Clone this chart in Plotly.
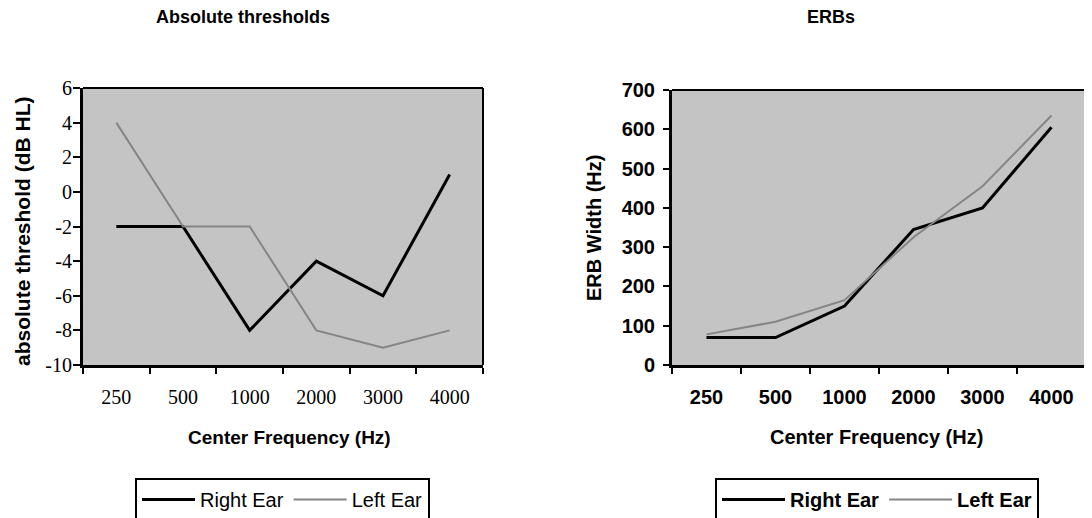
import plotly.graph_objects as go

# ---- data ----
freqs = ["250", "500", "1000", "2000", "3000", "4000"]
thr_right = [-2, -2, -8, -4, -6, 1]
thr_left = [4, -2, -2, -8, -9, -8]
erb_right = [70, 70, 150, 345, 400, 605]
erb_left = [78, 110, 165, 325, 455, 635]
thr_ticks = [-10, -8, -6, -4, -2, 0, 2, 4, 6]
erb_ticks = [0, 100, 200, 300, 400, 500, 600, 700]

# page has an 8px body margin: figure occupies screen (8..1092, 8..518)
OFF = 8
W, H = 1092 - OFF, 518 - OFF
def px(x):
    return (x - OFF) / W
def py(y):
    return 1 - (y - OFF) / H

BLACK = "#000000"
GRAY = "#858585"
SANS = "Liberation Sans, Arial, sans-serif"
SERIF = "Liberation Serif, Times New Roman, serif"

fig = go.Figure()

fig.add_trace(go.Scatter(x=freqs, y=thr_right, mode="lines", name="Right Ear",
                         line=dict(color=BLACK, width=3), xaxis="x", yaxis="y",
                         legend="legend", legendrank=1))
fig.add_trace(go.Scatter(x=freqs, y=thr_left, mode="lines", name="Left Ear",
                         line=dict(color=GRAY, width=2), xaxis="x", yaxis="y",
                         legend="legend", legendrank=2))
fig.add_trace(go.Scatter(x=freqs, y=erb_right, mode="lines", name="Right Ear",
                         line=dict(color=BLACK, width=3), xaxis="x2", yaxis="y2",
                         legend="legend2", legendrank=1))
fig.add_trace(go.Scatter(x=freqs, y=erb_left, mode="lines", name="Left Ear",
                         line=dict(color=GRAY, width=2), xaxis="x2", yaxis="y2",
                         legend="legend2", legendrank=2))

axis_common = dict(showgrid=False, zeroline=False, linecolor=BLACK, linewidth=3,
                   ticks="outside", tickcolor=BLACK, tickwidth=2,
                   showline=True, fixedrange=True, automargin=False)

fig.update_layout(
    width=W, height=H,
    margin=dict(l=0, r=0, t=0, b=0, autoexpand=False),
    paper_bgcolor="white",
    plot_bgcolor="#c4c4c4",
    showlegend=True,
    xaxis=dict(domain=[px(83), px(483)], type="category", range=[-0.5, 5.5],
               tickson="boundaries", anchor="y", ticklabelstandoff=12, ticklen=6,
               tickfont=dict(family=SERIF, size=20, color=BLACK), **axis_common),
    yaxis=dict(domain=[py(365), py(88)], range=[-10, 6], tickvals=thr_ticks,
               ticktext=[str(v) for v in thr_ticks],
               anchor="x", ticklabelstandoff=-3, ticklen=7,
               tickfont=dict(family=SERIF, size=20, color=BLACK), **axis_common),
    xaxis2=dict(domain=[px(672), 1.0], type="category", range=[-0.5, 5.587],
                tickson="boundaries", anchor="y2", ticklabelstandoff=12, ticklen=6,
                tickfont=dict(family=SANS, size=20, color=BLACK, weight="bold"), **axis_common),
    yaxis2=dict(domain=[py(365), py(90)], range=[0, 700], tickvals=erb_ticks,
                anchor="x2", ticklabelstandoff=4, ticklen=6,
                tickfont=dict(family=SANS, size=20, color=BLACK, weight="bold"), **axis_common),
    legend=dict(orientation="h", x=px(135), y=py(478), xanchor="left", yanchor="top",
                xref="container", yref="container",
                bordercolor=BLACK, borderwidth=2, bgcolor="white",
                font=dict(family=SANS, size=20, color=BLACK), itemwidth=53,
                tracegroupgap=0),
    legend2=dict(orientation="h", x=px(715), y=py(478), xanchor="left", yanchor="top",
                 xref="container", yref="container",
                 bordercolor=BLACK, borderwidth=2, bgcolor="white",
                 font=dict(family=SANS, size=20, color=BLACK, weight="bold"), itemwidth=63,
                 tracegroupgap=0),
    shapes=[
        dict(type="line", xref="x domain", yref="y domain", x0=0, x1=1, y0=1, y1=1,
             line=dict(color=BLACK, width=2)),
        dict(type="line", xref="x domain", yref="y domain", x0=1, x1=1, y0=0, y1=1,
             line=dict(color=BLACK, width=2)),
        dict(type="line", xref="x2 domain", yref="y2 domain", x0=0, x1=1, y0=1, y1=1,
             line=dict(color=BLACK, width=2)),
    ],
    annotations=[
        dict(text="Absolute thresholds", x=px(243), y=py(17), xref="paper", yref="paper",
             showarrow=False, xanchor="center", yanchor="middle",
             font=dict(family=SANS, size=18, color=BLACK, weight="bold")),
        dict(text="ERBs", x=px(831), y=py(17), xref="paper", yref="paper",
             showarrow=False, xanchor="center", yanchor="middle",
             font=dict(family=SANS, size=18, color=BLACK, weight="bold")),
        dict(text="Center Frequency (Hz)", x=px(289), y=py(437), xref="paper", yref="paper",
             showarrow=False, xanchor="center", yanchor="middle",
             font=dict(family=SANS, size=19, color=BLACK, weight="bold")),
        dict(text="Center Frequency (Hz)", x=px(876), y=py(437), xref="paper", yref="paper",
             showarrow=False, xanchor="center", yanchor="middle",
             font=dict(family=SANS, size=20, color=BLACK, weight="bold")),
        dict(text="absolute threshold (dB HL)", x=px(22), y=py(231), xref="paper", yref="paper",
             showarrow=False, xanchor="center", yanchor="middle", textangle=-90,
             font=dict(family=SANS, size=21, color=BLACK, weight="bold")),
        dict(text="ERB Width (Hz)", x=px(594), y=py(228), xref="paper", yref="paper",
             showarrow=False, xanchor="center", yanchor="middle", textangle=-90,
             font=dict(family=SANS, size=20, color=BLACK, weight="bold")),
    ],
)

fig.write_html("out.html")
